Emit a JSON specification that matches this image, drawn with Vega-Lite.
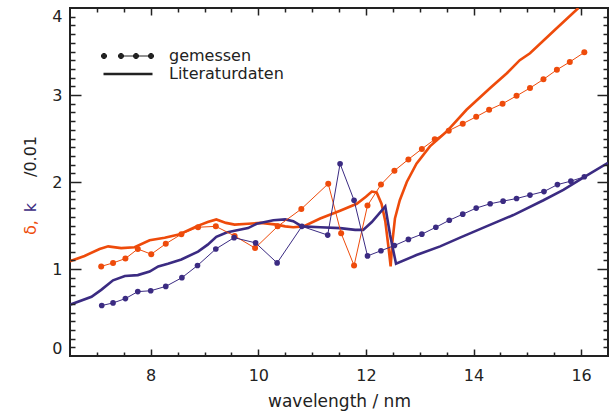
{
  "$schema": "https://vega.github.io/schema/vega-lite/v6.json",
  "width": 538,
  "height": 348,
  "autosize": {"type": "none"},
  "padding": {"left": 70, "top": 8, "right": 4, "bottom": 56},
  "background": "white",
  "config": {
    "view": {"stroke": "#222", "strokeWidth": 2},
    "font": "DejaVu Sans",
    "axis": {"labelFont": "DejaVu Sans", "titleFont": "DejaVu Sans", "labelColor": "#222", "titleColor": "#222", "grid": false, "domain": false, "tickColor": "#222", "tickWidth": 1.5, "titleFontWeight": "normal"}
  },
  "data": {"values": [
    {"series": "delta", "type": "Literaturdaten", "wl": 6.5, "val": 1.09},
    {"series": "delta", "type": "Literaturdaten", "wl": 6.77, "val": 1.15},
    {"series": "delta", "type": "Literaturdaten", "wl": 7.05, "val": 1.23},
    {"series": "delta", "type": "Literaturdaten", "wl": 7.21, "val": 1.26},
    {"series": "delta", "type": "Literaturdaten", "wl": 7.45, "val": 1.24},
    {"series": "delta", "type": "Literaturdaten", "wl": 7.7, "val": 1.25},
    {"series": "delta", "type": "Literaturdaten", "wl": 7.98, "val": 1.33},
    {"series": "delta", "type": "Literaturdaten", "wl": 8.26, "val": 1.36},
    {"series": "delta", "type": "Literaturdaten", "wl": 8.54, "val": 1.4},
    {"series": "delta", "type": "Literaturdaten", "wl": 8.85, "val": 1.49},
    {"series": "delta", "type": "Literaturdaten", "wl": 9.06, "val": 1.54},
    {"series": "delta", "type": "Literaturdaten", "wl": 9.22, "val": 1.57},
    {"series": "delta", "type": "Literaturdaten", "wl": 9.4, "val": 1.53},
    {"series": "delta", "type": "Literaturdaten", "wl": 9.56, "val": 1.51},
    {"series": "delta", "type": "Literaturdaten", "wl": 9.81, "val": 1.52},
    {"series": "delta", "type": "Literaturdaten", "wl": 10.05, "val": 1.53},
    {"series": "delta", "type": "Literaturdaten", "wl": 10.34, "val": 1.51},
    {"series": "delta", "type": "Literaturdaten", "wl": 10.5, "val": 1.49},
    {"series": "delta", "type": "Literaturdaten", "wl": 10.65, "val": 1.48},
    {"series": "delta", "type": "Literaturdaten", "wl": 10.84, "val": 1.49},
    {"series": "delta", "type": "Literaturdaten", "wl": 11.15, "val": 1.58},
    {"series": "delta", "type": "Literaturdaten", "wl": 11.52, "val": 1.67},
    {"series": "delta", "type": "Literaturdaten", "wl": 11.83, "val": 1.75},
    {"series": "delta", "type": "Literaturdaten", "wl": 12.0, "val": 1.83},
    {"series": "delta", "type": "Literaturdaten", "wl": 12.11, "val": 1.89},
    {"series": "delta", "type": "Literaturdaten", "wl": 12.2, "val": 1.88},
    {"series": "delta", "type": "Literaturdaten", "wl": 12.29, "val": 1.75},
    {"series": "delta", "type": "Literaturdaten", "wl": 12.36, "val": 1.55},
    {"series": "delta", "type": "Literaturdaten", "wl": 12.42, "val": 1.25},
    {"series": "delta", "type": "Literaturdaten", "wl": 12.46, "val": 1.03},
    {"series": "delta", "type": "Literaturdaten", "wl": 12.49, "val": 1.3},
    {"series": "delta", "type": "Literaturdaten", "wl": 12.54, "val": 1.58},
    {"series": "delta", "type": "Literaturdaten", "wl": 12.63, "val": 1.79},
    {"series": "delta", "type": "Literaturdaten", "wl": 12.76, "val": 2.0},
    {"series": "delta", "type": "Literaturdaten", "wl": 12.94, "val": 2.21},
    {"series": "delta", "type": "Literaturdaten", "wl": 13.19, "val": 2.41},
    {"series": "delta", "type": "Literaturdaten", "wl": 13.5, "val": 2.58},
    {"series": "delta", "type": "Literaturdaten", "wl": 13.87, "val": 2.83},
    {"series": "delta", "type": "Literaturdaten", "wl": 14.31, "val": 3.08},
    {"series": "delta", "type": "Literaturdaten", "wl": 14.62, "val": 3.25},
    {"series": "delta", "type": "Literaturdaten", "wl": 14.86, "val": 3.4},
    {"series": "delta", "type": "Literaturdaten", "wl": 15.05, "val": 3.48},
    {"series": "delta", "type": "Literaturdaten", "wl": 15.55, "val": 3.77},
    {"series": "delta", "type": "Literaturdaten", "wl": 15.95, "val": 4.0},
    {"series": "k", "type": "Literaturdaten", "wl": 6.5, "val": 0.59},
    {"series": "k", "type": "Literaturdaten", "wl": 6.9, "val": 0.68},
    {"series": "k", "type": "Literaturdaten", "wl": 7.08, "val": 0.76},
    {"series": "k", "type": "Literaturdaten", "wl": 7.3, "val": 0.87},
    {"series": "k", "type": "Literaturdaten", "wl": 7.52, "val": 0.92},
    {"series": "k", "type": "Literaturdaten", "wl": 7.76, "val": 0.93},
    {"series": "k", "type": "Literaturdaten", "wl": 7.98, "val": 0.97},
    {"series": "k", "type": "Literaturdaten", "wl": 8.14, "val": 1.03},
    {"series": "k", "type": "Literaturdaten", "wl": 8.32, "val": 1.06},
    {"series": "k", "type": "Literaturdaten", "wl": 8.57, "val": 1.11},
    {"series": "k", "type": "Literaturdaten", "wl": 8.88, "val": 1.2},
    {"series": "k", "type": "Literaturdaten", "wl": 9.06, "val": 1.28},
    {"series": "k", "type": "Literaturdaten", "wl": 9.22, "val": 1.37},
    {"series": "k", "type": "Literaturdaten", "wl": 9.41, "val": 1.42},
    {"series": "k", "type": "Literaturdaten", "wl": 9.56, "val": 1.44},
    {"series": "k", "type": "Literaturdaten", "wl": 9.81, "val": 1.47},
    {"series": "k", "type": "Literaturdaten", "wl": 9.97, "val": 1.52},
    {"series": "k", "type": "Literaturdaten", "wl": 10.28, "val": 1.56},
    {"series": "k", "type": "Literaturdaten", "wl": 10.5, "val": 1.57},
    {"series": "k", "type": "Literaturdaten", "wl": 10.65, "val": 1.55},
    {"series": "k", "type": "Literaturdaten", "wl": 10.81, "val": 1.49},
    {"series": "k", "type": "Literaturdaten", "wl": 11.15, "val": 1.48},
    {"series": "k", "type": "Literaturdaten", "wl": 11.52, "val": 1.47},
    {"series": "k", "type": "Literaturdaten", "wl": 11.8, "val": 1.45},
    {"series": "k", "type": "Literaturdaten", "wl": 11.95, "val": 1.45},
    {"series": "k", "type": "Literaturdaten", "wl": 12.11, "val": 1.54},
    {"series": "k", "type": "Literaturdaten", "wl": 12.36, "val": 1.72},
    {"series": "k", "type": "Literaturdaten", "wl": 12.45, "val": 1.39},
    {"series": "k", "type": "Literaturdaten", "wl": 12.56, "val": 1.06},
    {"series": "k", "type": "Literaturdaten", "wl": 12.94, "val": 1.16},
    {"series": "k", "type": "Literaturdaten", "wl": 13.38, "val": 1.26},
    {"series": "k", "type": "Literaturdaten", "wl": 13.75, "val": 1.36},
    {"series": "k", "type": "Literaturdaten", "wl": 14.24, "val": 1.49},
    {"series": "k", "type": "Literaturdaten", "wl": 14.74, "val": 1.62},
    {"series": "k", "type": "Literaturdaten", "wl": 15.3, "val": 1.79},
    {"series": "k", "type": "Literaturdaten", "wl": 15.67, "val": 1.91},
    {"series": "k", "type": "Literaturdaten", "wl": 16.04, "val": 2.05},
    {"series": "k", "type": "Literaturdaten", "wl": 16.5, "val": 2.22},
    {"series": "delta", "type": "gemessen", "wl": 7.08, "val": 1.03},
    {"series": "delta", "type": "gemessen", "wl": 7.3, "val": 1.07},
    {"series": "delta", "type": "gemessen", "wl": 7.53, "val": 1.12},
    {"series": "delta", "type": "gemessen", "wl": 7.76, "val": 1.23},
    {"series": "delta", "type": "gemessen", "wl": 8.01, "val": 1.17},
    {"series": "delta", "type": "gemessen", "wl": 8.28, "val": 1.29},
    {"series": "delta", "type": "gemessen", "wl": 8.57, "val": 1.4},
    {"series": "delta", "type": "gemessen", "wl": 8.88, "val": 1.48},
    {"series": "delta", "type": "gemessen", "wl": 9.21, "val": 1.49},
    {"series": "delta", "type": "gemessen", "wl": 9.56, "val": 1.38},
    {"series": "delta", "type": "gemessen", "wl": 9.94, "val": 1.24},
    {"series": "delta", "type": "gemessen", "wl": 10.36, "val": 1.49},
    {"series": "delta", "type": "gemessen", "wl": 10.8, "val": 1.69},
    {"series": "delta", "type": "gemessen", "wl": 11.3, "val": 1.98},
    {"series": "delta", "type": "gemessen", "wl": 11.54, "val": 1.41},
    {"series": "delta", "type": "gemessen", "wl": 11.78, "val": 1.04},
    {"series": "delta", "type": "gemessen", "wl": 12.03, "val": 1.73},
    {"series": "delta", "type": "gemessen", "wl": 12.28, "val": 1.97},
    {"series": "delta", "type": "gemessen", "wl": 12.53, "val": 2.13},
    {"series": "delta", "type": "gemessen", "wl": 12.79, "val": 2.26},
    {"series": "delta", "type": "gemessen", "wl": 13.04, "val": 2.38},
    {"series": "delta", "type": "gemessen", "wl": 13.28, "val": 2.49},
    {"series": "delta", "type": "gemessen", "wl": 13.54, "val": 2.59},
    {"series": "delta", "type": "gemessen", "wl": 13.8, "val": 2.67},
    {"series": "delta", "type": "gemessen", "wl": 14.05, "val": 2.75},
    {"series": "delta", "type": "gemessen", "wl": 14.29, "val": 2.83},
    {"series": "delta", "type": "gemessen", "wl": 14.54, "val": 2.9},
    {"series": "delta", "type": "gemessen", "wl": 14.8, "val": 2.99},
    {"series": "delta", "type": "gemessen", "wl": 15.05, "val": 3.08},
    {"series": "delta", "type": "gemessen", "wl": 15.3, "val": 3.18},
    {"series": "delta", "type": "gemessen", "wl": 15.55, "val": 3.29},
    {"series": "delta", "type": "gemessen", "wl": 15.79, "val": 3.38},
    {"series": "delta", "type": "gemessen", "wl": 16.06, "val": 3.49},
    {"series": "k", "type": "gemessen", "wl": 7.09, "val": 0.58},
    {"series": "k", "type": "gemessen", "wl": 7.3, "val": 0.61},
    {"series": "k", "type": "gemessen", "wl": 7.53, "val": 0.66},
    {"series": "k", "type": "gemessen", "wl": 7.76, "val": 0.74},
    {"series": "k", "type": "gemessen", "wl": 8.0, "val": 0.75},
    {"series": "k", "type": "gemessen", "wl": 8.28, "val": 0.8},
    {"series": "k", "type": "gemessen", "wl": 8.58, "val": 0.9},
    {"series": "k", "type": "gemessen", "wl": 8.87, "val": 1.04},
    {"series": "k", "type": "gemessen", "wl": 9.21, "val": 1.23},
    {"series": "k", "type": "gemessen", "wl": 9.55, "val": 1.36},
    {"series": "k", "type": "gemessen", "wl": 9.95, "val": 1.3},
    {"series": "k", "type": "gemessen", "wl": 10.35, "val": 1.07},
    {"series": "k", "type": "gemessen", "wl": 10.81, "val": 1.49},
    {"series": "k", "type": "gemessen", "wl": 11.29, "val": 1.39},
    {"series": "k", "type": "gemessen", "wl": 11.52, "val": 2.21},
    {"series": "k", "type": "gemessen", "wl": 11.78, "val": 1.79},
    {"series": "k", "type": "gemessen", "wl": 12.03, "val": 1.15},
    {"series": "k", "type": "gemessen", "wl": 12.28, "val": 1.21},
    {"series": "k", "type": "gemessen", "wl": 12.53, "val": 1.27},
    {"series": "k", "type": "gemessen", "wl": 12.79, "val": 1.34},
    {"series": "k", "type": "gemessen", "wl": 13.04, "val": 1.4},
    {"series": "k", "type": "gemessen", "wl": 13.3, "val": 1.48},
    {"series": "k", "type": "gemessen", "wl": 13.55, "val": 1.56},
    {"series": "k", "type": "gemessen", "wl": 13.8, "val": 1.63},
    {"series": "k", "type": "gemessen", "wl": 14.05, "val": 1.7},
    {"series": "k", "type": "gemessen", "wl": 14.31, "val": 1.75},
    {"series": "k", "type": "gemessen", "wl": 14.55, "val": 1.78},
    {"series": "k", "type": "gemessen", "wl": 14.8, "val": 1.81},
    {"series": "k", "type": "gemessen", "wl": 15.05, "val": 1.85},
    {"series": "k", "type": "gemessen", "wl": 15.31, "val": 1.89},
    {"series": "k", "type": "gemessen", "wl": 15.56, "val": 1.97},
    {"series": "k", "type": "gemessen", "wl": 15.81, "val": 2.01},
    {"series": "k", "type": "gemessen", "wl": 16.06, "val": 2.06}
  ]},
  "layer": [
    {
      "transform": [{"filter": "datum.series === 'delta' && datum.type === 'Literaturdaten'"}],
      "mark": {"type": "line", "clip": true},
      "encoding": {
        "x": {"field": "wl", "type": "quantitative", "scale": {"domain": [6.5, 16.5], "nice": false, "zero": false},
              "axis": {"orient": "bottom", "values": [8, 10, 12, 14, 16], "ticks": false, "labelPadding": 11, "labelFontSize": 16, "title": "wavelength / nm", "titleFontSize": 17, "titleBaseline": "alphabetic", "titleY": 50}},
        "y": {"field": "val", "type": "quantitative", "scale": {"domain": [0, 4], "nice": false, "zero": false},
              "axis": {"orient": "left", "values": [0, 1, 2, 3, 4], "ticks": false, "labelPadding": 8, "labelFlush": true, "labelFontSize": 16, "title": "/0.01", "titleFontSize": 16, "titleAngle": 270, "titleAlign": "center", "titleBaseline": "alphabetic", "titleX": -35, "titleY": 148}},
        "color": {"field": "series", "type": "nominal", "scale": {"domain": ["delta", "k"], "range": ["#EE4B0B", "#3B2B82"]}, "legend": null},
        "strokeWidth": {"field": "type", "type": "nominal", "scale": {"domain": ["gemessen", "Literaturdaten"], "range": [1, 2.6]},
          "legend": {"orient": "none", "legendX": 50, "legendY": 40, "title": null, "direction": "vertical", "symbolType": "stroke", "symbolSize": 100, "symbolStrokeColor": "#222", "symbolFillColor": "#222", "labelOffset": 33, "labelFontSize": 16, "labelColor": "#222", "labelFont": "DejaVu Sans", "rowPadding": 2,
            "encode": {"symbols": {"update": {"shape": {"signal": "datum.value === 'gemessen' ? 'M-1.4,0L4.6,0M-5.32,0a0.52,0.52 0 1,0 1.04,0a0.52,0.52 0 1,0 -1.04,0M-1.92,0a0.52,0.52 0 1,0 1.04,0a0.52,0.52 0 1,0 -1.04,0M1.08,0a0.52,0.52 0 1,0 1.04,0a0.52,0.52 0 1,0 -1.04,0M4.08,0a0.52,0.52 0 1,0 1.04,0a0.52,0.52 0 1,0 -1.04,0' : 'M-4.9,0L4.9,0'"}, "fill": {"value": "#222"}, "stroke": {"value": "#222"}}}}}}
      }
    },
    {
      "transform": [{"filter": "datum.series === 'k' && datum.type === 'Literaturdaten'"}],
      "mark": {"type": "line", "clip": true},
      "encoding": {
        "x": {"field": "wl", "type": "quantitative", "scale": {"domain": [6.5, 16.5], "nice": false, "zero": false},
              "axis": {"orient": "bottom", "zindex": 2, "values": [7, 7.5, 8.5, 9, 9.5, 10.5, 11, 11.5, 12.5, 13, 13.5, 14.5, 15, 15.5], "labels": false, "title": null, "ticks": true, "tickSize": -4}},
        "y": {"field": "val", "type": "quantitative", "scale": {"domain": [0, 4], "nice": false, "zero": false},
              "axis": {"orient": "left", "zindex": 2, "values": [0.1, 0.2, 0.3, 0.4, 0.5, 0.6, 0.7, 0.8, 0.9, 1.1, 1.2, 1.3, 1.4, 1.5, 1.6, 1.7, 1.8, 1.9, 2.1, 2.2, 2.3, 2.4, 2.5, 2.6, 2.7, 2.8, 2.9, 3.1, 3.2, 3.3, 3.4, 3.5, 3.6, 3.7, 3.8, 3.9], "labels": false, "title": null, "ticks": true, "tickSize": -5}},
        "color": {"field": "series", "type": "nominal", "scale": {"domain": ["delta", "k"], "range": ["#EE4B0B", "#3B2B82"]}, "legend": null},
        "strokeWidth": {"field": "type", "type": "nominal", "scale": {"domain": ["gemessen", "Literaturdaten"], "range": [1, 2.6]}}
      }
    },
    {
      "transform": [{"filter": "datum.series === 'delta' && datum.type === 'gemessen'"}],
      "mark": {"type": "line", "clip": true},
      "encoding": {
        "x": {"field": "wl", "type": "quantitative", "scale": {"domain": [6.5, 16.5], "nice": false, "zero": false},
              "axis": {"orient": "top", "zindex": 2, "values": [7, 7.5, 8.5, 9, 9.5, 10.5, 11, 11.5, 12.5, 13, 13.5, 14.5, 15, 15.5], "labels": false, "title": null, "ticks": true, "tickSize": -4}},
        "y": {"field": "val", "type": "quantitative", "scale": {"domain": [0, 4], "nice": false, "zero": false},
              "axis": {"orient": "right", "zindex": 2, "values": [0.1, 0.2, 0.3, 0.4, 0.5, 0.6, 0.7, 0.8, 0.9, 1.1, 1.2, 1.3, 1.4, 1.5, 1.6, 1.7, 1.8, 1.9, 2.1, 2.2, 2.3, 2.4, 2.5, 2.6, 2.7, 2.8, 2.9, 3.1, 3.2, 3.3, 3.4, 3.5, 3.6, 3.7, 3.8, 3.9], "labels": false, "title": null, "ticks": true, "tickSize": -5}},
        "color": {"field": "series", "type": "nominal", "scale": {"domain": ["delta", "k"], "range": ["#EE4B0B", "#3B2B82"]}, "legend": null},
        "strokeWidth": {"field": "type", "type": "nominal", "scale": {"domain": ["gemessen", "Literaturdaten"], "range": [1, 2.6]}}
      }
    },
    {
      "transform": [{"filter": "datum.series === 'k' && datum.type === 'gemessen'"}],
      "mark": {"type": "line", "clip": true},
      "encoding": {
        "x": {"field": "wl", "type": "quantitative", "scale": {"domain": [6.5, 16.5], "nice": false, "zero": false},
              "axis": {"orient": "top", "zindex": 2, "values": [8, 10, 12, 14, 16], "labels": false, "title": null, "ticks": true, "tickSize": -7}},
        "y": {"field": "val", "type": "quantitative", "scale": {"domain": [0, 4], "nice": false, "zero": false},
              "axis": {"orient": "right", "zindex": 2, "values": [1, 2, 3], "labels": false, "title": null, "ticks": true, "tickSize": -11}},
        "color": {"field": "series", "type": "nominal", "scale": {"domain": ["delta", "k"], "range": ["#EE4B0B", "#3B2B82"]}, "legend": null},
        "strokeWidth": {"field": "type", "type": "nominal", "scale": {"domain": ["gemessen", "Literaturdaten"], "range": [1, 2.6]}}
      }
    },
    {
      "transform": [{"filter": "datum.series === 'delta' && datum.type === 'gemessen'"}],
      "mark": {"type": "point", "filled": true, "opacity": 1, "size": 36},
      "encoding": {
        "x": {"field": "wl", "type": "quantitative", "scale": {"domain": [6.5, 16.5], "nice": false, "zero": false},
              "axis": {"orient": "bottom", "zindex": 2, "values": [8, 10, 12, 14, 16], "labels": false, "title": null, "ticks": true, "tickSize": -7}},
        "y": {"field": "val", "type": "quantitative", "scale": {"domain": [0, 4], "nice": false, "zero": false},
              "axis": {"orient": "left", "zindex": 2, "values": [1, 2, 3], "labels": false, "ticks": true, "tickSize": -11, "title": "δ,", "titleColor": "#EE4B0B", "titleFontSize": 16, "titleAngle": 270, "titleAlign": "center", "titleBaseline": "alphabetic", "titleX": -35, "titleY": 219}},
        "color": {"field": "series", "type": "nominal", "scale": {"domain": ["delta", "k"], "range": ["#EE4B0B", "#3B2B82"]}, "legend": null}
      }
    },
    {
      "transform": [{"filter": "datum.series === 'k' && datum.type === 'gemessen'"}],
      "mark": {"type": "point", "filled": true, "opacity": 1, "size": 32},
      "encoding": {
        "x": {"field": "wl", "type": "quantitative", "scale": {"domain": [6.5, 16.5], "nice": false, "zero": false}, "axis": null},
        "y": {"field": "val", "type": "quantitative", "scale": {"domain": [0, 4], "nice": false, "zero": false},
              "axis": {"orient": "left", "labels": false, "ticks": false, "title": "k", "titleColor": "#3B2B82", "titleFontSize": 16, "titleAngle": 270, "titleAlign": "center", "titleBaseline": "alphabetic", "titleX": -35, "titleY": 199}},
        "color": {"field": "series", "type": "nominal", "scale": {"domain": ["delta", "k"], "range": ["#EE4B0B", "#3B2B82"]}, "legend": null}
      }
    }
  ],
  "resolve": {"axis": {"x": "independent", "y": "independent"}}
}
